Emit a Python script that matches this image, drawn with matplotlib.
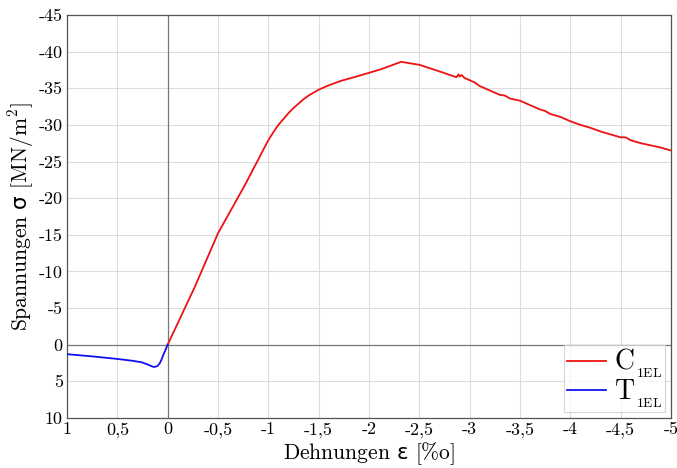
import matplotlib
matplotlib.use('agg')
import matplotlib.pyplot as plt
from matplotlib.ticker import FuncFormatter

plt.rcParams['font.family'] = ['cmr10', 'DejaVu Sans']
plt.rcParams['mathtext.fontset'] = 'custom'
plt.rcParams['mathtext.rm'] = 'cmr10'
plt.rcParams['mathtext.it'] = 'cmmi10'
plt.rcParams['mathtext.bf'] = 'cmb10'
plt.rcParams['mathtext.sf'] = 'DejaVu Sans'
plt.rcParams['axes.formatter.use_mathtext'] = True

# Compression branch C_1EL (strain in per mille, stress in MN/m2)
c_strain = [0.0, -0.27, -0.5, -0.76, -0.89, -0.95, -1.0, -1.05, -1.1, -1.15,
            -1.2, -1.25, -1.3, -1.35, -1.4, -1.45, -1.5, -1.6, -1.72, -1.85,
            -2.0, -2.12, -2.32, -2.5, -2.7, -2.87, -2.89, -2.9, -2.92, -2.95,
            -3.0, -3.05, -3.1, -3.2, -3.3, -3.35, -3.4, -3.5, -3.55, -3.6,
            -3.7, -3.75, -3.8, -3.9, -4.0, -4.1, -4.2, -4.3, -4.4, -4.5,
            -4.55, -4.6, -4.7, -4.8, -4.9, -5.0]
c_stress = [0.0, -7.9, -15.2, -21.6, -25.0, -26.6, -27.9, -29.0, -30.0, -30.8,
            -31.6, -32.3, -32.9, -33.5, -34.0, -34.4, -34.8, -35.4, -36.0, -36.5,
            -37.1, -37.6, -38.6, -38.2, -37.3, -36.5, -36.9, -36.6, -36.8, -36.4,
            -36.1, -35.8, -35.3, -34.7, -34.1, -34.0, -33.6, -33.3, -33.0, -32.7,
            -32.1, -31.9, -31.5, -31.1, -30.5, -30.0, -29.6, -29.1, -28.7, -28.3,
            -28.3, -27.9, -27.5, -27.2, -26.9, -26.5]

# Tension branch T_1EL
t_strain = [1.0, 0.75, 0.5, 0.35, 0.26, 0.2, 0.15, 0.13, 0.1, 0.077, 0.06, 0.043, 0.0]
t_stress = [1.3, 1.6, 1.95, 2.2, 2.4, 2.7, 3.0, 3.05, 2.9, 2.5, 2.0, 1.4, 0.0]

x_ticks = [1, 0.5, 0, -0.5, -1, -1.5, -2, -2.5, -3, -3.5, -4, -4.5, -5]
y_ticks = [10, 5, 0, -5, -10, -15, -20, -25, -30, -35, -40, -45]


def fmt(v, pos):
    return ('%g' % v).replace('.', ',')


fig = plt.figure(figsize=(6.77, 4.68), dpi=100)
ax = fig.add_axes([0.099, 0.107, 0.892, 0.861])

ax.axvline(0, color='#777777', linewidth=0.9, zorder=1)
ax.axhline(0, color='#777777', linewidth=0.9, zorder=1)

ax.plot(c_strain, c_stress, color='#ee1111', linewidth=1.3,
        label=r'$\mathrm{C}_{_{\mathrm{1EL}}}$', zorder=3)
ax.plot(t_strain, t_stress, color='#1111ee', linewidth=1.3,
        label=r'$\mathrm{T}_{_{\mathrm{1EL}}}$', zorder=3)

ax.set_xlim(1, -5)
ax.set_ylim(10, -45)
ax.set_xticks(x_ticks)
ax.set_yticks(y_ticks)
ax.xaxis.set_major_formatter(FuncFormatter(fmt))
ax.yaxis.set_major_formatter(FuncFormatter(fmt))
ax.grid(True, color='#dddddd', linewidth=0.8, zorder=0)
ax.set_axisbelow(True)
ax.tick_params(length=0, labelsize=13, pad=3)

for s in ax.spines.values():
    s.set_color('#555555')
    s.set_linewidth(0.9)

ax.set_xlabel(r'Dehnungen $\mathsf{\varepsilon}$ [%o]', fontsize=15.5, labelpad=2)
ax.set_ylabel(r'Spannungen $\mathsf{\sigma}$ [MN/m$^2$]', fontsize=15.5, labelpad=2)

leg = ax.legend(loc='lower right', fontsize=20, frameon=True, fancybox=False,
                handlelength=1.4, handletextpad=0.3, borderpad=0.1,
                labelspacing=-0.1, borderaxespad=0.2)
leg.get_frame().set_edgecolor('#cccccc')
leg.get_frame().set_linewidth(0.8)

plt.savefig('out.png', dpi=100)
